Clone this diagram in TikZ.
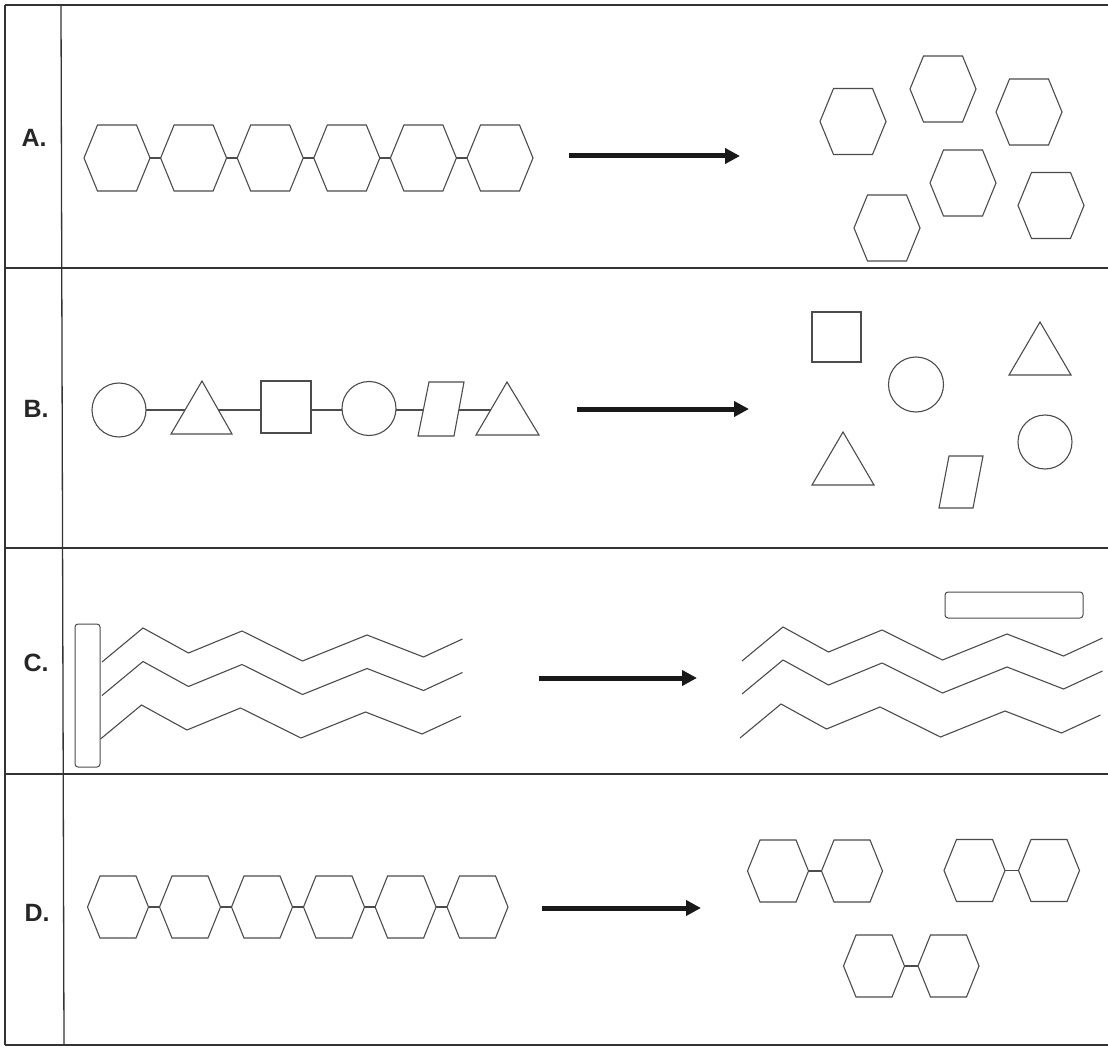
\documentclass[tikz,border=0pt]{standalone}
\usepackage{fontspec}
\setmainfont{Liberation Sans}
\usetikzlibrary{arrows.meta,calc}
\begin{document}
\begin{tikzpicture}[x=1pt,y=-1pt,
  frame/.style={draw=black!80,line width=1.3pt},
  shp/.style={draw=black!70,line width=1.1pt,fill=white,line join=miter},
  link/.style={draw=black!70,line width=1.3pt},
  zig/.style={draw=black!70,line width=1.1pt},
  bigarrow/.style={draw=black!90,line width=5pt,-{Triangle[length=15pt,width=15pt]}},
  lab/.style={font=\fontsize{25}{25}\selectfont\bfseries,text=black!85,inner sep=0pt},
  circ/.style={shp,circle,minimum size=54pt,inner sep=0pt},
  sq/.style={shp,rectangle,minimum width=50pt,minimum height=52pt,inner sep=0pt},
  rodbox/.style={draw=black!70,line width=1pt,rounded corners=3pt,inner sep=0pt,fill=white},
  hexA/.pic={\draw[shp] (-33,0) -- (-19.5,-33) -- (19.5,-33) -- (33,0) -- (19.5,33) -- (-19.5,33) -- cycle;
    \coordinate (-l) at (-33,0); \coordinate (-r) at (33,0);},
  hexD/.pic={\draw[shp] (-30.5,0) -- (-18,-31) -- (18,-31) -- (30.5,0) -- (18,31) -- (-18,31) -- cycle;
    \coordinate (-l) at (-30.5,0); \coordinate (-r) at (30.5,0);},
  zigline/.pic={\draw[zig] (0,0) -- (41,-34) -- (86.5,-9) -- (140,-31) -- (200.5,-1) -- (265,-27) -- (321.5,-5) -- (360.5,-23);}
]
\useasboundingbox (0,0) rectangle (1108,1048);
\fill[white] (0,0) rectangle (1108,1048);

% frame
\draw[frame] (5,5) -- (1108,5);
\draw[frame] (5,268) -- (1108,268);
\draw[frame] (5,548) -- (1108,548);
\draw[frame] (5,774) -- (1108,774);
\draw[frame] (5,1045) -- (1108,1045);
\draw[frame] (5,5) -- (5,1045);
\draw[frame] (61,5) -- (64,1045);

% labels
\node[lab] (labA) at (34,138) {A.};
\node[lab] (labB) at (36,409) {B.};
\node[lab] (labC) at (36,663) {C.};
\node[lab] (labD) at (37,913) {D.};

% ---------- Row A ----------
\pic (a1) at (117,158) {hexA};
\pic (a2) at (193.6,158) {hexA};
\pic (a3) at (270.2,158) {hexA};
\pic (a4) at (346.8,158) {hexA};
\pic (a5) at (423.4,158) {hexA};
\pic (a6) at (500,158) {hexA};
\draw[link] (a1-r) -- (a2-l);
\draw[link] (a2-r) -- (a3-l);
\draw[link] (a3-r) -- (a4-l);
\draw[link] (a4-r) -- (a5-l);
\draw[link] (a5-r) -- (a6-l);
\coordinate (arA1) at (569,156);
\coordinate (arA2) at (740,156);
\draw[bigarrow] (arA1) -- (arA2);
\pic (ar1) at (853,121.5) {hexA};
\pic (ar2) at (943,89) {hexA};
\pic (ar3) at (1029,112) {hexA};
\pic (ar4) at (963,183) {hexA};
\pic (ar5) at (1051,205.5) {hexA};
\pic (ar6) at (887,228) {hexA};

% ---------- Row B ----------
\coordinate (b1) at (119,410);
\coordinate (b2) at (202,410);
\coordinate (b3) at (286,410);
\coordinate (b4) at (369,410);
\coordinate (b5) at (441,410);
\coordinate (b6) at (507,410);
\draw[link] (b1) -- (b2) -- (b3) -- (b4) -- (b5) -- (b6);
\node[circ] (bc1) at (119,410) {};
\draw[shp] (171,434) -- (202,381) -- (232,434) -- cycle;
\node[sq] (bs1) at (286,407) {};
\node[circ] (bc2) at (369,408.5) {};
\draw[shp] (429,382) -- (464,382) -- (454,436) -- (418,436) -- cycle;
\draw[shp] (476,435) -- (507,382) -- (539,435) -- cycle;
\coordinate (arB1) at (577,409);
\coordinate (arB2) at (749,409);
\draw[bigarrow] (arB1) -- (arB2);
\node[sq,minimum width=49pt,minimum height=50pt] (brs) at (836.5,337) {};
\node[circ,minimum size=55pt] (brc1) at (916,384.5) {};
\draw[shp] (1009,375) -- (1040,322) -- (1071,375) -- cycle;
\draw[shp] (812,485) -- (843,432) -- (874,485) -- cycle;
\draw[shp] (949,456) -- (983,456) -- (973,508) -- (939,508) -- cycle;
\node[circ] (brc2) at (1045,442) {};

% ---------- Row C ----------
\node[rodbox,minimum width=25pt,minimum height=143pt] (rod1) at (87.5,695.5) {};
\pic at (102,662) {zigline};
\pic at (102,695.5) {zigline};
\pic at (100.5,739) {zigline};
\coordinate (arC1) at (539,678);
\coordinate (arC2) at (697,678);
\draw[bigarrow] (arC1) -- (arC2);
\node[rodbox,minimum width=138pt,minimum height=26pt] (rod2) at (1014,605) {};
\pic at (742,661) {zigline};
\pic at (742,694) {zigline};
\pic at (740,738) {zigline};

% ---------- Row D ----------
\pic (d1) at (118,907) {hexD};
\pic (d2) at (190,907) {hexD};
\pic (d3) at (262,907) {hexD};
\pic (d4) at (334,907) {hexD};
\pic (d5) at (405.6,907) {hexD};
\pic (d6) at (477.5,907) {hexD};
\draw[link] (d1-r) -- (d2-l);
\draw[link] (d2-r) -- (d3-l);
\draw[link] (d3-r) -- (d4-l);
\draw[link] (d4-r) -- (d5-l);
\draw[link] (d5-r) -- (d6-l);
\coordinate (arD1) at (542,908);
\coordinate (arD2) at (701,908);
\draw[bigarrow] (arD1) -- (arD2);
\pic (p1a) at (778,871) {hexD};
\pic (p1b) at (852,871) {hexD};
\draw[link] (p1a-r) -- (p1b-l);
\pic (p2a) at (974.5,870.5) {hexD};
\pic (p2b) at (1049,870.5) {hexD};
\draw[link] (p2a-r) -- (p2b-l);
\pic (p3a) at (874,966) {hexD};
\pic (p3b) at (948.5,966) {hexD};
\draw[link] (p3a-r) -- (p3b-l);
\end{tikzpicture}
\end{document}
